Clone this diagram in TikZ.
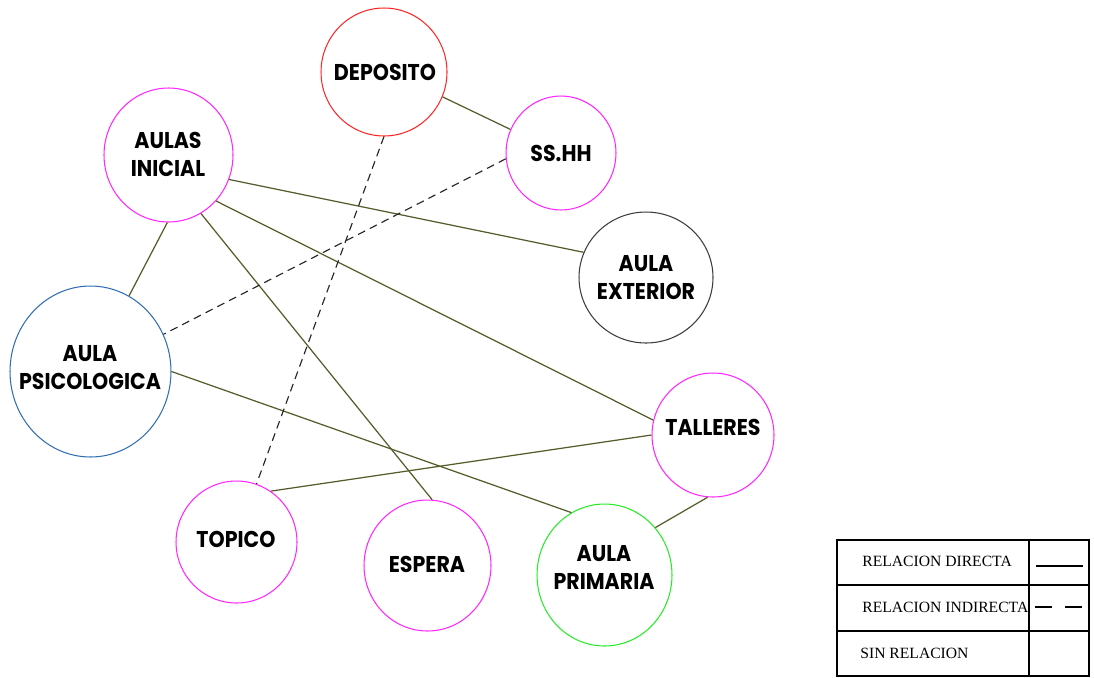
\documentclass[tikz,border=0pt]{standalone}
\usepackage{fontspec}
\newfontfamily\roomfont[FakeStretch=0.9]{Poppins}
\newfontfamily\keyfont{Liberation Serif}
\usetikzlibrary{shapes.geometric}
\definecolor{olivedir}{RGB}{85,92,42}
\definecolor{cred}{RGB}{255,40,40}
\definecolor{cmag}{RGB}{255,40,255}
\definecolor{cblue}{RGB}{50,110,180}
\definecolor{cgreen}{RGB}{40,235,40}
\definecolor{cgray}{RGB}{60,60,60}

\begin{document}
\begin{tikzpicture}[x=0.02cm,y=-0.02cm,
  rm/.style={ellipse,draw,line width=0.6pt,inner sep=0pt},
  lbl/.style={font=\roomfont\bfseries\fontsize{13}{15.9}\selectfont,
    align=center,inner sep=0pt},
  dir/.style={draw=olivedir,line width=0.7pt},
  ind/.style={draw=black!85,line width=0.65pt,dash pattern=on 4.5pt off 3pt},
  key/.style={font=\keyfont\fontsize{8.9}{10}\selectfont,anchor=west,inner sep=0pt}
]
\useasboundingbox (0,0) rectangle (1094,677);

% ambientes
\node[rm,draw=cred, minimum width=2.52cm,minimum height=2.56cm] (dep) at (384,72) {};
\node[rm,draw=cmag, minimum width=2.20cm,minimum height=2.28cm] (ssh) at (561,153) {};
\node[rm,draw=cmag, minimum width=2.58cm,minimum height=2.68cm] (ini) at (168.5,155) {};
\node[rm,draw=cgray,minimum width=2.68cm,minimum height=2.62cm] (ext) at (646,277.5) {};
\node[rm,draw=cblue,minimum width=3.22cm,minimum height=3.42cm] (psi) at (90.5,371.5) {};
\node[rm,draw=cmag, minimum width=2.44cm,minimum height=2.48cm] (tal) at (713,435) {};
\node[rm,draw=cmag, minimum width=2.42cm,minimum height=2.44cm] (top) at (236.5,542) {};
\node[rm,draw=cmag, minimum width=2.54cm,minimum height=2.62cm] (esp) at (427.5,565.5) {};
\node[rm,draw=cgreen,minimum width=2.70cm,minimum height=2.84cm] (pri) at (604.5,575) {};

% nombres
\node[lbl] (depT) at (385,72)  {DEPOSITO};
\node[lbl] (sshT) at (561,153) {SS.HH};
\node[lbl] (iniT) at (168,154) {AULAS\\INICIAL};
\node[lbl] (extT) at (646,278) {AULA\\EXTERIOR};
\node[lbl] (psiT) at (90,368)  {AULA\\PSICOLOGICA};
\node[lbl] (talT) at (713,427) {TALLERES};
\node[lbl] (topT) at (236,539) {TOPICO};
\node[lbl] (espT) at (427,564) {ESPERA};
\node[lbl] (priT) at (604,567) {AULA\\PRIMARIA};

% relaciones directas
\draw[dir] (dep.-23)  -- (ssh.155);
\draw[dir] (ini.-22)  -- (ext.158);
\draw[dir] (ini.-44)  -- (tal.166);
\draw[dir] (ini.-61)  -- (esp.86);
\draw[dir] (ini.-91)  -- (psi.63);
\draw[dir] (psi.0)    -- (pri.118);
\draw[dir] (top.56)   -- (tal.180);
\draw[dir] (tal.-95)  -- (pri.43);

% relaciones indirectas
\draw[ind] (dep.-90)  -- (top.71);
\draw[ind] (ssh.186)  -- (psi.27);

% leyenda
\draw[line width=0.8pt] (837,540) rectangle (1089,676);
\draw[line width=0.8pt] (837,585) -- (1089,585);
\draw[line width=0.8pt] (837,631) -- (1089,631);
\draw[line width=0.8pt] (1029,540) -- (1029,676);
\node[key] (k1) at (862,561) {RELACION DIRECTA};
\node[key] (k2) at (862,607) {RELACION INDIRECTA};
\node[key] (k3) at (860,653) {SIN RELACION};
\coordinate (s1a) at (1036,566); \coordinate (s1b) at (1083,566);
\coordinate (s2a) at (1035,607); \coordinate (s2b) at (1082,607);
\draw[line width=0.6pt] (s1a) -- (s1b);
\draw[line width=0.6pt,dash pattern=on 9.6pt off 7.4pt] (s2a) -- (s2b);
\end{tikzpicture}
\end{document}
